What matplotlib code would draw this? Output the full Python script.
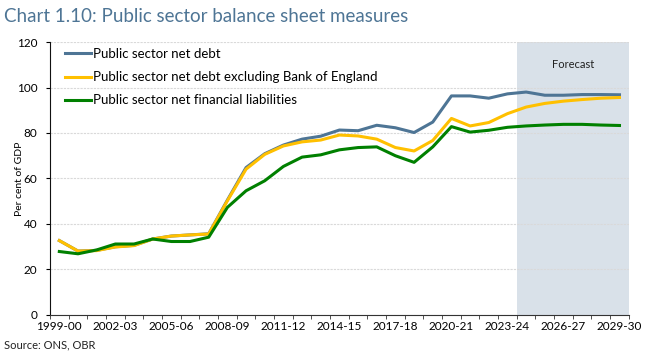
import matplotlib
matplotlib.use('Agg')
import matplotlib.pyplot as plt
import numpy as np

# Financial years (categories)
years = ['1999-00', '2000-01', '2001-02', '2002-03', '2003-04', '2004-05',
         '2005-06', '2006-07', '2007-08', '2008-09', '2009-10', '2010-11',
         '2011-12', '2012-13', '2013-14', '2014-15', '2015-16', '2016-17',
         '2017-18', '2018-19', '2019-20', '2020-21', '2021-22', '2022-23',
         '2023-24', '2024-25', '2025-26', '2026-27', '2027-28', '2028-29',
         '2029-30']

# Per cent of GDP
net_debt = [32.7, 28.1, 28.4, 30.0, 30.6, 33.4, 34.7, 35.2, 35.7, 50.5, 64.8,
            70.9, 74.7, 77.3, 78.6, 81.3, 81.0, 83.4, 82.3, 80.2, 84.8, 96.3,
            96.3, 95.3, 97.2, 98.0, 96.6, 96.6, 96.9, 96.9, 96.8]
net_debt_ex_boe = [32.7, 28.1, 28.3, 29.9, 30.5, 33.4, 34.7, 35.2, 35.6, 50.2,
                   64.1, 70.6, 74.3, 76.1, 76.9, 79.1, 78.7, 77.3, 73.6, 72.1,
                   76.7, 86.4, 83.1, 84.6, 88.5, 91.4, 93.0, 94.0, 94.7, 95.3,
                   95.6]
net_fin_liab = [27.9, 26.9, 28.6, 31.2, 31.2, 33.4, 32.3, 32.3, 34.2, 47.3,
                54.6, 59.0, 65.3, 69.4, 70.4, 72.6, 73.6, 73.9, 70.0, 67.1,
                73.9, 82.8, 80.4, 81.2, 82.5, 83.1, 83.5, 83.8, 83.8, 83.5,
                83.3]

forecast_start = '2024-25'

plt.rcParams['font.family'] = ['Lato', 'DejaVu Sans']

fig = plt.figure(figsize=(6.64, 3.59), dpi=100)
ax = fig.add_axes([0.0753, 0.1226, 0.8717, 0.7604])

x = np.arange(len(years))
fi = years.index(forecast_start)
ax.axvspan(fi - 0.5, len(years) - 0.5, color='#D9E1E9', lw=0, zorder=0)
ax.text((fi - 0.5 + len(years) - 0.5) / 2, 110, 'Forecast', ha='center',
        va='center', fontsize=8, color='#222222')

ax.plot(x, net_debt, color='#4E7595', lw=2.2, label='Public sector net debt', zorder=3)
ax.plot(x, net_debt_ex_boe, color='#FFC000', lw=2.2,
        label='Public sector net debt excluding Bank of England', zorder=4)
ax.plot(x, net_fin_liab, color='#008000', lw=2.2,
        label='Public sector net financial liabilities', zorder=5)

ax.set_xlim(-0.5, len(years) - 0.5)
ax.set_ylim(0, 120)
ax.set_yticks(range(0, 121, 20))
ax.set_xticks(x[::3])
ax.set_xticklabels(years[::3])
ax.set_xticks(np.arange(len(years) + 1) - 0.5, minor=True)
ax.tick_params(axis='x', which='major', length=0, labelsize=8.5, pad=4)
ax.tick_params(axis='x', which='minor', length=3, direction='out', color='#333333')
ax.tick_params(axis='y', length=3, labelsize=8.5, pad=6)

ax.yaxis.grid(True, color='#D9D9D9', lw=0.8, ls=(0, (2, 1)), zorder=1)
for s in ['top', 'right']:
    ax.spines[s].set_visible(False)
ax.spines['left'].set_color('#111111')
ax.spines['bottom'].set_color('#333333')

ax.set_ylabel('Per cent of GDP', fontsize=7.5)
ax.yaxis.set_label_coords(-0.045, 0.5)

leg = ax.legend(loc='upper left', frameon=False, fontsize=9.5, handlelength=2.0,
                handletextpad=0.15, labelspacing=0.85, borderaxespad=0.3,
                bbox_to_anchor=(0.01, 1.012))

fig.text(0.006, 0.955, 'Chart 1.10: Public sector balance sheet measures',
         fontsize=13.5, color='#4E7595', va='center', ha='left')
fig.text(0.006, 0.04, 'Source: ONS, OBR', fontsize=8, color='#222222',
         va='center', ha='left')

fig.savefig('out.png', dpi=100, facecolor='white')
